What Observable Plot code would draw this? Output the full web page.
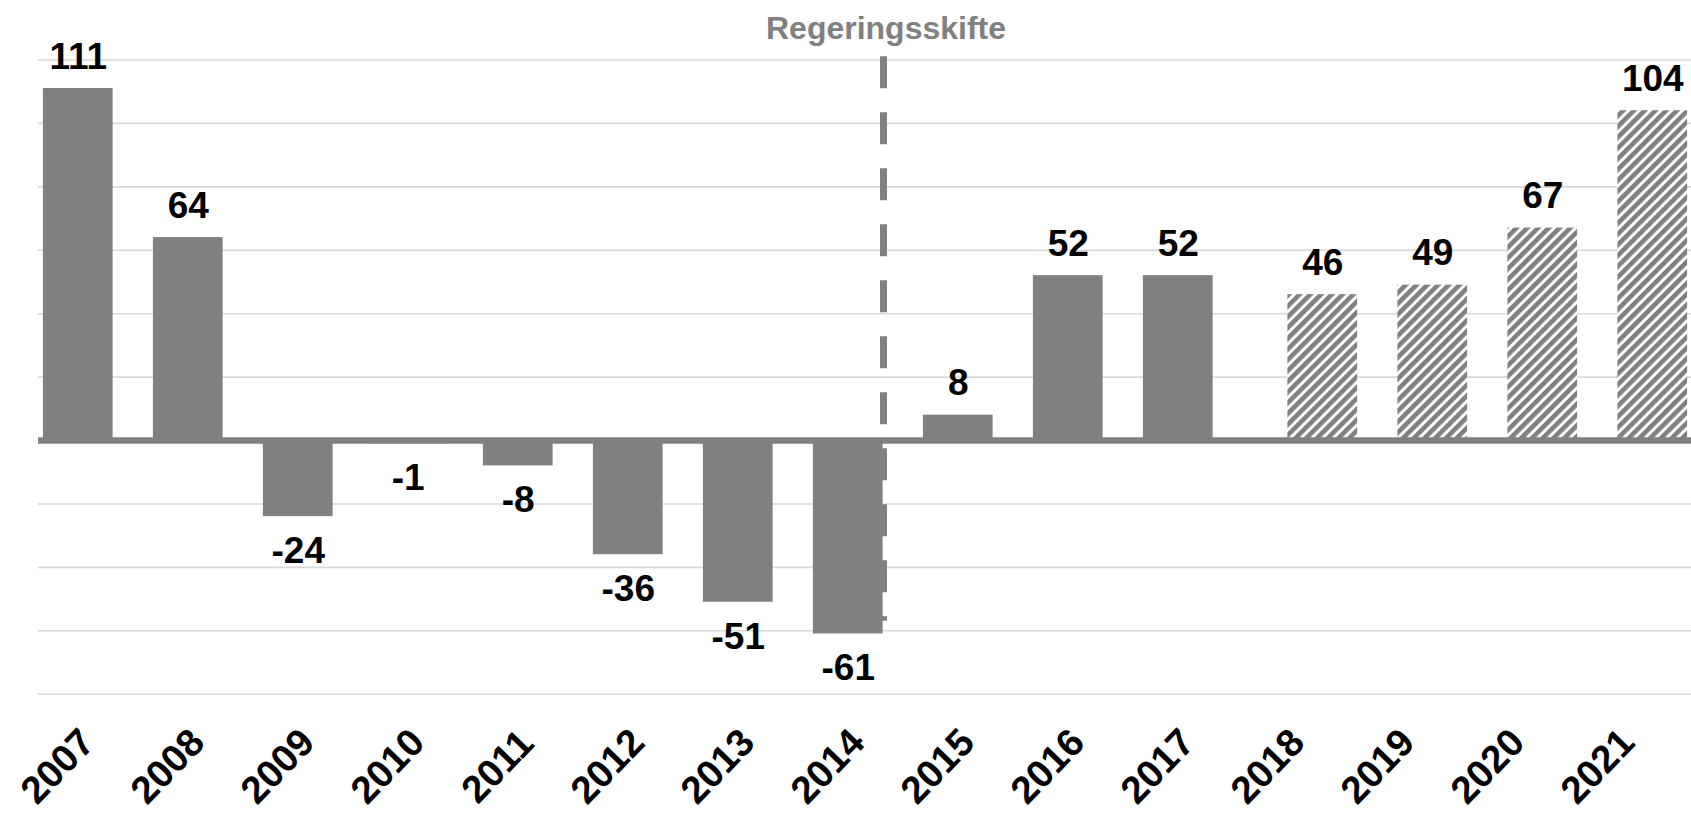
<!DOCTYPE html>
<html>
<head>
<meta charset="utf-8">
<script src="https://cdn.jsdelivr.net/npm/d3@7"></script>
<script src="https://cdn.jsdelivr.net/npm/@observablehq/plot@0.6"></script>
<style>
  html, body { margin: 0; padding: 0; background: #fff; }
  #chart { width: 1691px; height: 813px; overflow: hidden; }
</style>
</head>
<body>
<div id="chart"></div>
<script>
// ---- Data ----
const years = ["2007","2008","2009","2010","2011","2012","2013","2014","2015","2016","2017","2018","2019","2020","2021"];
const values = [111, 64, -24, -1, -8, -36, -51, -61, 8, 52, 52, 46, 49, 67, 104];
const forecastYears = ["2018","2019","2020","2021"];
const yTicks = [-80, -60, -40, -20, 20, 40, 60, 80, 100, 120];
const shiftLabel = "Regeringsskifte";
const shiftYear = "2014";
const shiftRange = [121, -57];

// ---- Build table ----
const data = years.map((year, i) => ({
  year,
  value: values[i],
  forecast: forecastYears.includes(year)
}));
const actual = data.filter(d => !d.forecast);
const forecast = data.filter(d => d.forecast);

const gray = "#808080";
const font = "'Liberation Sans', Arial, Helvetica, sans-serif";
const W = 1691, H = 813;

const valueText = (rows, dx, positive) => Plot.text(rows.filter(d => positive ? d.value >= 0 : d.value < 0), {
  x: "year",
  y: "value",
  text: d => String(d.value),
  dx,
  dy: positive ? -20 : 20,
  lineAnchor: positive ? "bottom" : "top",
  fontSize: 37,
  fontWeight: "bold",
  fill: "#000"
});

const chart = Plot.plot({
  width: W,
  height: H,
  marginLeft: 38,
  marginRight: 0,
  marginTop: 59.5,
  marginBottom: 119.3,
  style: { fontFamily: font, background: "#fff", overflow: "visible" },
  x: { type: "band", domain: years, padding: 0, axis: null },
  y: { domain: [-80, 120], axis: null },
  marks: [
    Plot.ruleY(yTicks, { stroke: "#d9d9d9", strokeWidth: 1.6 }),
    Plot.ruleX([shiftYear], { x: d => d, y1: shiftRange[0], y2: shiftRange[1], dx: 18, stroke: gray, strokeWidth: 7, strokeDasharray: "32,24" }),
    Plot.barY(actual, { x: "year", y: "value", fill: gray, insetLeft: 2.9, insetRight: 37.4 }),
    Plot.barY(forecast, { x: "year", y: "value", fill: "url(#hatch)", insetLeft: 37.4, insetRight: 2.9 }),
    Plot.ruleY([0], { stroke: gray, strokeWidth: 6.6 }),
    valueText(actual, -17.25, true),
    valueText(actual, -17.25, false),
    valueText(forecast, 17.25, true),
    Plot.text([shiftLabel], {
      x: () => shiftYear, frameAnchor: "top", text: d => d,
      dx: 20.5, dy: -21.2, lineAnchor: "bottom",
      fontSize: 32, fontWeight: "bold", fill: gray
    }),
    Plot.text(years, {
      x: d => d, text: d => d, frameAnchor: "bottom",
      dx: -37.5, dy: 72.5, rotate: -46,
      textAnchor: "middle", lineAnchor: "middle",
      fontSize: 38.5, fontWeight: "bold", fill: "#000"
    })
  ]
});

// hatch pattern definition
const defs = d3.select(chart).insert("defs", ":first-child");
const pat = defs.append("pattern")
  .attr("id", "hatch")
  .attr("patternUnits", "userSpaceOnUse")
  .attr("width", 7.6).attr("height", 7.6)
  .attr("patternTransform", "rotate(45)");
pat.append("rect").attr("width", 7.6).attr("height", 7.6).attr("fill", "#fff");
pat.append("rect").attr("width", 4.6).attr("height", 7.6).attr("fill", gray);

document.getElementById("chart").appendChild(chart);
</script>
</body>
</html>
